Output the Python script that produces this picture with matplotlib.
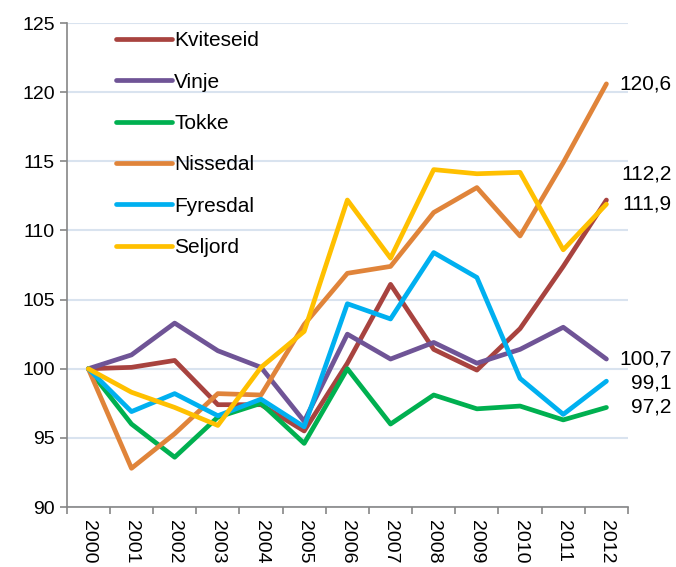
import matplotlib.pyplot as plt

years = ['2000', '2001', '2002', '2003', '2004', '2005', '2006',
         '2007', '2008', '2009', '2010', '2011', '2012']

kviteseid = [100, 100.1, 100.6, 97.4, 97.4, 95.5, 100.4, 106.1, 101.4, 99.9, 102.9, 107.4, 112.2]
vinje = [100, 101.0, 103.3, 101.3, 100.1, 96.2, 102.5, 100.7, 101.9, 100.4, 101.4, 103.0, 100.7]
tokke = [100, 96.0, 93.6, 96.5, 97.5, 94.6, 100.0, 96.0, 98.1, 97.1, 97.3, 96.3, 97.2]
nissedal = [100, 92.8, 95.3, 98.2, 98.1, 103.2, 106.9, 107.4, 111.3, 113.1, 109.6, 114.9, 120.6]
fyresdal = [100, 96.9, 98.2, 96.6, 97.8, 95.8, 104.7, 103.6, 108.4, 106.6, 99.3, 96.7, 99.1]
seljord = [100, 98.3, 97.2, 95.9, 100.1, 102.7, 112.2, 108.0, 114.4, 114.1, 114.2, 108.6, 111.9]

series = [
    ('Kviteseid', kviteseid, '#A8433F'),
    ('Vinje', vinje, '#6F5496'),
    ('Tokke', tokke, '#00B050'),
    ('Nissedal', nissedal, '#E0843A'),
    ('Fyresdal', fyresdal, '#00B0F0'),
    ('Seljord', seljord, '#FFC000'),
]

# end labels (text, value, extra vertical nudge in points)
end_labels = [
    ('120,6', 120.6, 0),
    ('112,2', 112.2, 19),
    ('111,9', 111.9, 0),
    ('100,7', 100.7, 0),
    ('99,1', 99.1, -1),
    ('97,2', 97.2, 0),
]

plt.rcParams['font.family'] = ['Liberation Sans', 'DejaVu Sans']

fig = plt.figure(figsize=(6.76, 5.67), dpi=100)
ax = fig.add_axes([0.0987, 0.1058, 0.8303, 0.8536])

x = list(range(len(years)))
for name, vals, col in series:
    ax.plot(x, vals, color=col, lw=3.4, label=name,
            solid_capstyle='round', solid_joinstyle='round')

for txt, val, nudge in end_labels:
    ax.annotate(txt, xy=(12, val), xytext=(47, nudge), textcoords='offset points',
                ha='right', va='center', fontsize=15, annotation_clip=False)

ax.set_xlim(-0.5, 12.5)
ax.set_ylim(90, 125)
ax.set_yticks(range(90, 126, 5))
ax.set_xticks(x)
ax.set_xticklabels(years, rotation=-90, fontsize=14)
ax.set_xticks([i - 0.5 for i in range(14)], minor=True)
ax.tick_params(axis='x', which='major', length=0, pad=9)
ax.tick_params(axis='x', which='minor', length=5, color='#868686', width=1.2)
ax.tick_params(axis='y', labelsize=14, length=5, color='#868686', width=1.2)

ax.grid(axis='y', color='#D9E3EF', lw=1.5)
ax.set_axisbelow(True)
for s in ['top', 'right']:
    ax.spines[s].set_visible(False)
for s in ['left', 'bottom']:
    ax.spines[s].set_color('#868686')
    ax.spines[s].set_linewidth(1.2)

ax.legend(loc='upper left', bbox_to_anchor=(0.073, 1.0), frameon=False,
          fontsize=15, handlelength=2.7, handletextpad=0.1, labelspacing=1.07,
          borderaxespad=0)

fig.savefig('out.png', dpi=100)
